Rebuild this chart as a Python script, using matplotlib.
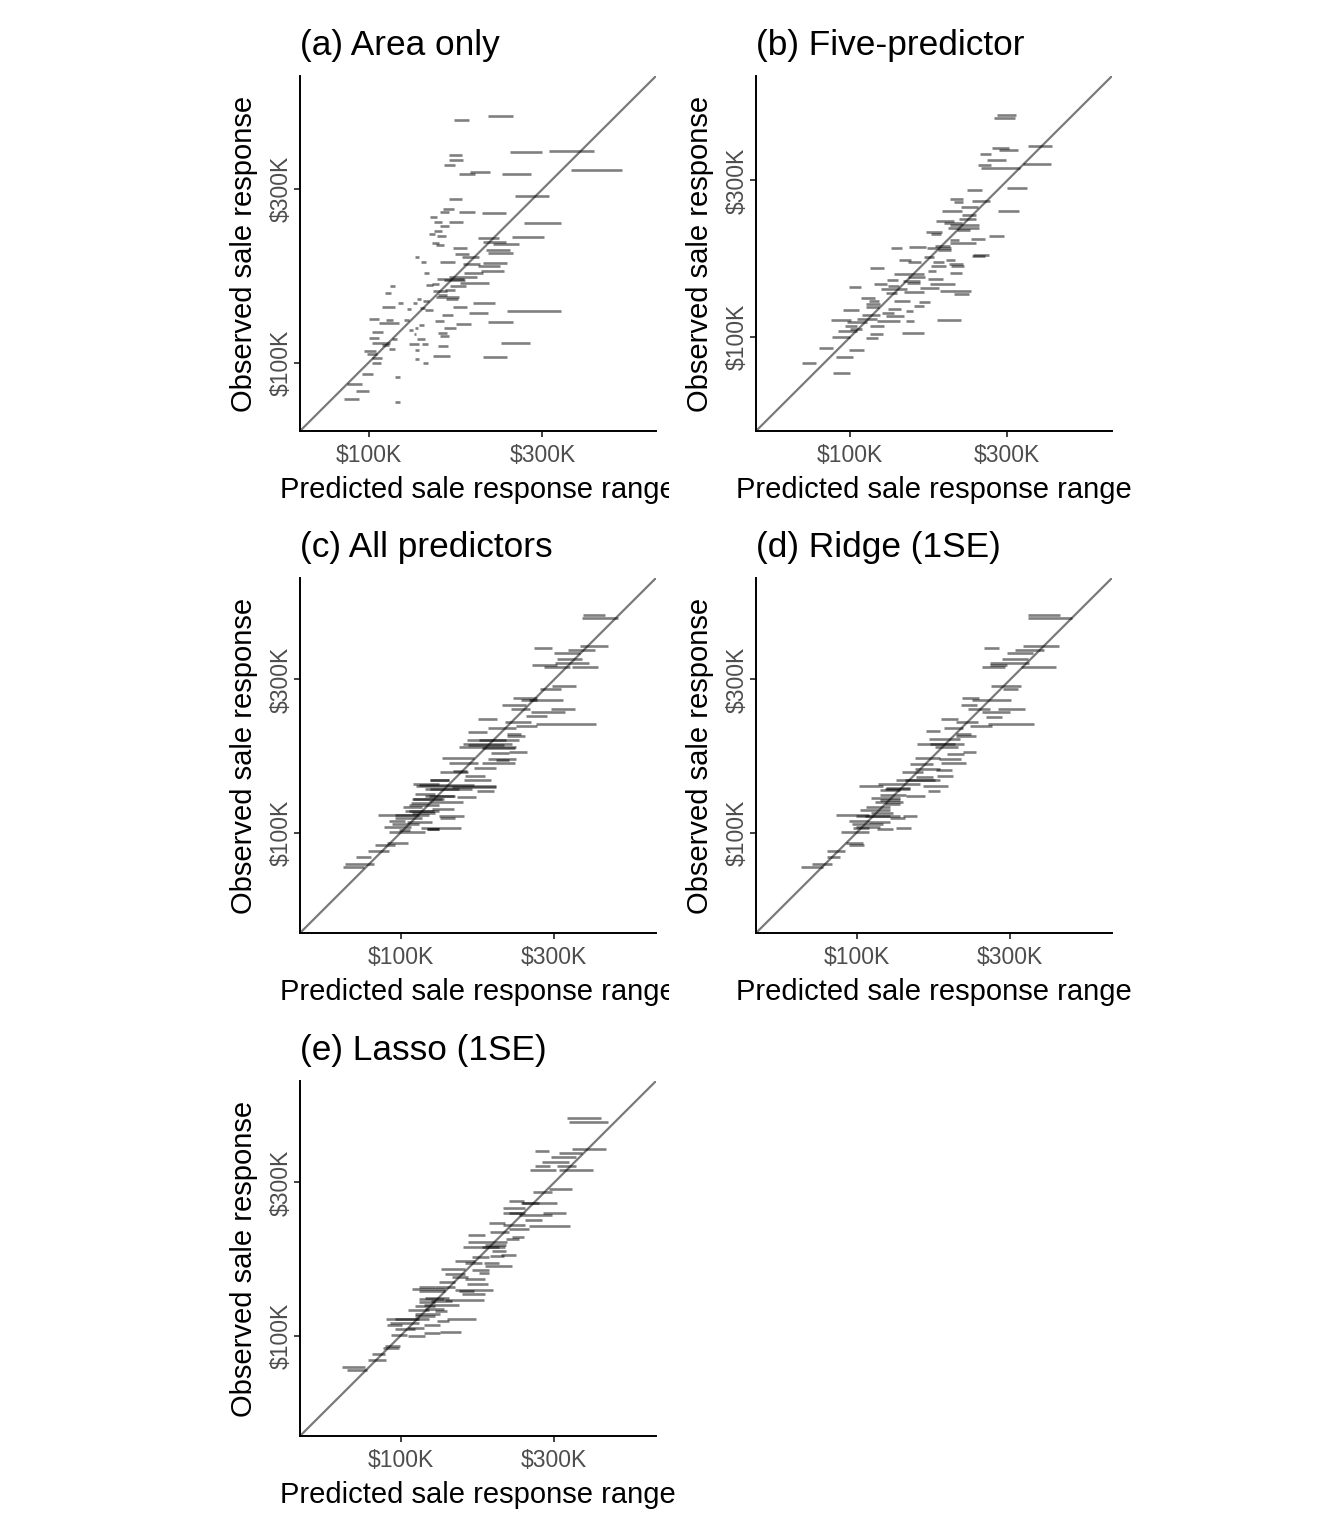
import matplotlib
matplotlib.use("Agg")
import matplotlib.pyplot as plt
from matplotlib.transforms import Bbox
import numpy as np

plt.rcParams['font.family'] = ['Liberation Sans', 'DejaVu Sans']

# Values are log10(sale price in dollars)
titles = ["(a) Area only", "(b) Five-predictor", "(c) All predictors", "(d) Ridge (1SE)", "(e) Lasso (1SE)"]
tick_vals = [1e5, 3e5]
tick_labels = ["\\$100K", "\\$300K"]

a_obs = [5.680,5.669,5.579,5.583,5.572,5.558,5.543,5.530,5.525,5.518,5.518,5.458,5.450,5.423,5.414,5.416,5.412,5.400,5.386,5.387,
         5.385,5.377,5.362,5.354,5.349,5.347,5.343,5.332,5.328,5.330,5.325,5.317,5.310,5.302,5.298,5.291,5.290,5.277,5.277,5.275,
         5.271,5.265,5.252,5.248,5.246,5.235,5.231,5.227,5.218,5.216,5.215,5.212,5.211,5.200,5.196,5.193,5.186,5.180,5.175,5.176,
         5.169,5.164,5.164,5.163,5.153,5.152,5.150,5.147,5.145,5.143,5.137,5.130,5.121,5.118,5.117,5.113,5.114,5.110,5.107,5.104,
         5.096,5.095,5.090,5.084,5.080,5.081,5.074,5.069,5.066,5.066,5.054,5.052,5.052,5.053,5.048,5.046,5.037,5.034,5.031,5.023,
         5.018,5.015,5.013,5.010,5.000,5.000,4.969,4.961,4.942,4.923,4.901,4.892]
a_lo = [5.328,5.235,5.388,5.496,5.221,5.222,5.207,5.556,5.279,5.248,5.365,5.402,5.220,5.205,5.195,5.248,5.312,5.170,5.180,5.222,
        5.427,5.195,5.181,5.165,5.188,5.393,5.300,5.314,5.342,5.173,5.185,5.232,5.322,5.328,5.237,5.257,5.128,5.144,5.197,5.314,
        5.260,5.300,5.309,5.263,5.151,5.222,5.188,5.206,5.251,5.174,5.159,5.058,5.223,5.209,5.177,5.044,5.190,5.185,5.132,5.213,
        5.149,5.080,5.288,5.122,5.037,5.232,5.142,5.107,5.155,5.381,5.276,5.202,5.000,5.047,5.097,5.328,5.183,5.030,5.240,5.139,
        5.128,5.208,5.112,5.009,5.125,5.191,5.196,5.000,5.132,5.064,5.009,5.112,5.148,5.363,5.037,5.192,5.055,5.128,4.989,4.995,
        5.176,5.314,5.009,5.128,5.009,5.149,4.982,5.073,4.940,4.966,4.933,5.073]
a_hi = [5.397,5.275,5.475,5.618,5.257,5.258,5.238,5.695,5.333,5.292,5.446,5.494,5.256,5.236,5.222,5.292,5.376,5.189,5.202,5.258,
        5.527,5.222,5.203,5.182,5.212,5.483,5.359,5.376,5.413,5.193,5.208,5.270,5.388,5.397,5.277,5.303,5.138,5.158,5.238,5.379,
        5.307,5.360,5.371,5.314,5.167,5.299,5.261,5.264,5.330,5.193,5.177,5.074,5.267,5.238,5.215,5.062,5.215,5.248,5.145,5.246,
        5.165,5.094,5.346,5.132,5.073,5.271,5.156,5.116,5.177,5.529,5.328,5.231,5.028,5.066,5.110,5.397,5.207,5.083,5.282,5.151,
        5.136,5.241,5.121,5.041,5.130,5.216,5.220,5.028,5.156,5.078,5.060,5.138,5.162,5.444,5.055,5.217,5.072,5.138,5.020,5.023,
        5.223,5.379,5.037,5.138,5.034,5.163,5.012,5.087,4.982,5.000,4.974,5.087]

b_obs = [5.677,5.667,5.581,5.575,5.569,5.556,5.539,5.528,5.523,5.515,5.455,5.447,5.420,5.411,5.413,5.396,5.384,5.383,5.373,5.360,
         5.353,5.347,5.341,5.331,5.325,5.321,5.314,5.308,5.299,5.295,5.287,5.278,5.275,5.271,5.271,5.264,5.250,5.246,5.244,5.234,
         5.236,5.228,5.228,5.224,5.216,5.217,5.210,5.201,5.194,5.191,5.183,5.178,5.173,5.172,5.166,5.162,5.161,5.155,5.151,5.148,
         5.145,5.141,5.138,5.133,5.130,5.118,5.110,5.109,5.107,5.100,5.095,5.092,5.087,5.081,5.079,5.074,5.068,5.064,5.055,5.052,
         5.052,5.050,5.050,5.046,5.034,5.033,5.025,5.018,5.013,5.009,4.999,4.998,4.967,4.960,4.939,4.922,4.891]
b_lo = [5.446,5.436,5.539,5.432,5.452,5.393,5.416,5.525,5.389,5.396,5.476,5.355,5.304,5.314,5.369,5.338,5.279,5.449,5.341,5.329,
        5.262,5.286,5.304,5.296,5.324,5.230,5.245,5.422,5.368,5.304,5.304,5.258,5.179,5.124,5.234,5.268,5.372,5.370,5.225,5.148,
        5.292,5.176,5.250,5.299,5.245,5.307,5.059,5.235,5.302,5.132,5.177,5.237,5.112,5.160,5.172,5.072,5.243,5.116,4.995,5.211,
        5.093,5.274,5.162,5.109,5.314,5.033,5.133,5.057,5.208,5.049,5.195,5.047,5.115,4.978,5.168,5.096,5.036,5.109,5.020,4.941,
        5.265,5.081,5.170,4.990,4.984,5.061,5.000,4.964,5.157,5.061,4.945,5.047,4.904,4.996,4.957,4.853,4.947]
b_hi = [5.503,5.499,5.613,5.482,5.511,5.429,5.474,5.609,5.428,5.517,5.536,5.400,5.344,5.343,5.426,5.388,5.341,5.513,5.383,5.382,
        5.315,5.340,5.391,5.391,5.365,5.278,5.276,5.468,5.409,5.331,5.382,5.302,5.231,5.158,5.306,5.306,5.422,5.410,5.255,5.185,
        5.317,5.216,5.284,5.343,5.291,5.346,5.103,5.261,5.340,5.225,5.228,5.283,5.146,5.211,5.211,5.112,5.317,5.148,5.033,5.271,
        5.172,5.368,5.223,5.142,5.361,5.076,5.182,5.086,5.243,5.091,5.223,5.089,5.154,5.026,5.192,5.132,5.091,5.164,5.081,5.002,
        5.338,5.152,5.195,5.051,5.022,5.103,5.036,5.022,5.225,5.099,5.000,5.085,4.947,5.043,5.010,4.895,4.998]

c_obs = [5.679,5.668,5.581,5.576,5.569,5.558,5.540,5.529,5.523,5.516,5.516,5.456,5.447,5.420,5.414,5.398,5.386,5.385,5.375,5.362,
         5.354,5.346,5.340,5.332,5.326,5.315,5.308,5.301,5.289,5.277,5.268,5.264,5.251,5.247,5.233,5.230,5.217,5.217,5.201,5.193,
         5.188,5.177,5.163,5.163,5.151,5.147,5.147,5.142,5.137,5.130,5.120,5.115,5.111,5.106,5.097,5.094,5.085,5.081,5.075,5.069,
         5.060,5.054,5.051,5.047,5.046,5.036,5.033,5.026,5.019,5.015,5.012,5.010,5.001,4.969,4.961,4.943,4.924,4.903,4.892,
         5.273,5.227,5.149,5.149,5.115,5.069,5.054,5.012,5.163,5.289,5.414,5.106,5.137]
c_lo = [5.566,5.564,5.556,5.414,5.520,5.477,5.487,5.478,5.408,5.446,5.533,5.469,5.433,5.349,5.373,5.314,5.344,5.467,5.405,5.389,
        5.239,5.323,5.420,5.357,5.271,5.208,5.330,5.331,5.206,5.194,5.180,5.253,5.336,5.282,5.128,5.272,5.152,5.253,5.229,5.162,
        5.123,5.201,5.196,5.092,5.038,5.049,5.180,5.160,5.077,5.237,5.044,5.077,5.175,5.035,5.087,5.033,5.025,5.007,5.097,5.015,
        5.035,4.929,5.118,4.984,5.123,4.963,5.020,4.973,4.950,5.064,5.082,4.994,4.963,4.957,4.921,4.898,4.862,4.828,4.820,
        5.211,5.295,5.056,5.134,5.087,5.025,4.984,5.082,5.093,5.243,5.398,5.040,5.090]
c_hi = [5.634,5.674,5.644,5.471,5.603,5.556,5.562,5.584,5.487,5.526,5.614,5.546,5.497,5.424,5.503,5.391,5.401,5.541,5.510,5.456,
        5.299,5.405,5.606,5.423,5.357,5.267,5.373,5.386,5.326,5.346,5.357,5.354,5.394,5.336,5.229,5.359,5.239,5.355,5.295,5.207,
        5.211,5.263,5.282,5.149,5.118,5.180,5.295,5.295,5.222,5.291,5.108,5.170,5.235,5.134,5.194,5.087,5.118,5.066,5.165,5.118,
        5.108,5.087,5.197,5.066,5.168,5.015,5.097,5.056,5.033,5.189,5.120,5.030,5.077,5.023,4.984,4.963,4.909,4.918,4.888,
        5.320,5.336,5.134,5.227,5.165,5.103,5.056,5.118,5.149,5.367,5.424,5.130,5.180]

d_obs = [5.679,5.668,5.581,5.576,5.569,5.558,5.541,5.529,5.523,5.516,5.516,5.456,5.448,5.420,5.414,5.398,5.386,5.385,5.375,5.361,
         5.354,5.346,5.340,5.332,5.326,5.316,5.308,5.301,5.291,5.277,5.268,5.251,5.246,5.234,5.230,5.218,5.214,5.196,5.188,5.178,
         5.173,5.163,5.152,5.145,5.145,5.140,5.132,5.130,5.118,5.113,5.109,5.096,5.089,5.081,5.072,5.063,5.055,5.052,5.051,5.046,
         5.038,5.035,5.026,5.015,5.012,5.015,5.001,4.968,4.961,4.942,4.925,4.903,4.893,
         5.163,5.052,5.276,5.103,5.137,5.199,5.019]
d_lo = [5.531,5.533,5.517,5.396,5.492,5.466,5.452,5.415,5.414,5.388,5.510,5.417,5.455,5.327,5.360,5.323,5.347,5.439,5.388,5.402,
        5.261,5.310,5.408,5.351,5.272,5.215,5.310,5.310,5.226,5.188,5.245,5.331,5.281,5.183,5.256,5.263,5.165,5.248,5.142,5.250,
        5.186,5.123,5.066,5.009,5.206,5.092,5.072,5.222,5.072,5.155,5.046,5.056,5.087,5.030,5.012,5.046,4.937,4.999,5.144,5.103,
        4.978,5.040,4.987,5.121,5.064,4.988,4.953,4.968,4.976,4.909,4.909,4.861,4.828,
        5.149,5.025,5.227,5.072,5.087,5.180,4.997]
d_hi = [5.631,5.670,5.629,5.442,5.583,5.548,5.531,5.534,5.466,5.461,5.618,5.511,5.502,5.380,5.479,5.375,5.414,5.522,5.476,5.453,
        5.314,5.378,5.550,5.419,5.331,5.258,5.354,5.370,5.320,5.333,5.315,5.372,5.333,5.258,5.323,5.339,5.237,5.295,5.206,5.298,
        5.237,5.258,5.196,5.082,5.284,5.165,5.134,5.258,5.155,5.212,5.134,5.144,5.134,5.103,5.103,5.113,5.040,5.134,5.188,5.149,
        5.040,5.103,5.082,5.170,5.113,5.040,5.040,5.020,5.022,4.963,4.949,4.923,4.895,
        5.243,5.103,5.305,5.134,5.165,5.258,5.072]

e_obs = [5.678,5.666,5.581,5.575,5.570,5.557,5.540,5.528,5.528,5.516,5.515,5.456,5.448,5.420,5.413,5.398,5.383,5.383,5.375,5.361,
         5.352,5.345,5.341,5.331,5.323,5.315,5.308,5.301,5.291,5.282,5.275,5.263,5.252,5.247,5.245,5.234,5.228,5.228,5.218,5.209,
         5.205,5.196,5.192,5.184,5.177,5.166,5.162,5.153,5.152,5.145,5.143,5.138,5.131,5.119,5.115,5.110,5.106,5.096,5.092,5.084,
         5.080,5.077,5.068,5.062,5.053,5.052,5.047,5.041,5.032,5.032,5.024,5.021,5.013,5.010,5.003,4.999,4.969,4.961,4.942,4.924,
         4.903,4.894,
         5.276,5.140,5.109,5.052,5.413,5.383]
e_lo = [5.518,5.522,5.531,5.417,5.491,5.467,5.438,5.417,5.487,5.401,5.491,5.460,5.411,5.337,5.373,5.317,5.317,5.442,5.367,5.386,
        5.275,5.318,5.398,5.336,5.279,5.211,5.346,5.326,5.211,5.263,5.194,5.284,5.312,5.279,5.222,5.170,5.258,5.199,5.263,5.127,
        5.222,5.243,5.139,5.160,5.201,5.118,5.206,5.056,5.108,5.037,5.170,5.056,5.191,5.077,5.056,5.139,5.056,5.072,5.046,5.077,
        5.022,5.108,5.044,5.046,4.956,5.144,5.113,4.968,4.957,5.072,5.023,4.984,5.123,5.072,4.971,5.022,4.952,4.947,4.911,4.898,
        4.817,4.833,
        5.252,5.180,5.096,4.984,5.376,5.336]
e_hi = [5.623,5.645,5.638,5.460,5.562,5.545,5.522,5.464,5.545,5.484,5.597,5.531,5.471,5.382,5.486,5.385,5.386,5.513,5.469,5.439,
        5.323,5.386,5.526,5.398,5.336,5.261,5.383,5.367,5.331,5.326,5.323,5.326,5.360,5.320,5.274,5.232,5.307,5.253,5.346,5.201,
        5.274,5.274,5.201,5.211,5.263,5.170,5.270,5.108,5.170,5.139,5.288,5.139,5.263,5.149,5.134,5.258,5.108,5.180,5.108,5.134,
        5.087,5.143,5.123,5.108,5.056,5.234,5.149,5.056,5.004,5.123,5.072,5.046,5.189,5.123,5.020,5.077,4.999,4.994,4.952,4.954,
        4.890,4.895,
        5.305,5.227,5.159,5.087,5.429,5.376]

panels = [(a_obs, a_lo, a_hi), (b_obs, b_lo, b_hi), (c_obs, c_lo, c_hi), (d_obs, d_lo, d_hi), (e_obs, e_lo, e_hi)]
# axis limits in log10 dollars (per panel)
limits = [(4.812, 5.789), (4.714, 5.795), (4.688, 5.793), (4.688, 5.793), (4.688, 5.793)]

W, H = 1344, 1536
fig = plt.figure(figsize=(W / 100, H / 100), dpi=100)
fig.patch.set_facecolor('white')

# pixel boxes: left, top, right, bottom
boxes = [(300, 76, 656, 431), (756, 76, 1112, 431),
         (300, 578, 656, 933), (756, 578, 1112, 933),
         (300, 1081, 656, 1436)]

for i, (title, (obs, lo, hi), lim, box) in enumerate(zip(titles, panels, limits, boxes)):
    l, t, r, b = box
    ax = fig.add_axes([l / W, 1 - b / H, (r - l) / W, (b - t) / H])
    ax.set_xscale('log')
    ax.set_yscale('log')
    lim_d = 10 ** np.array(lim)
    ax.set_xlim(lim_d)
    ax.set_ylim(lim_d)
    ax.plot(lim_d, lim_d, color='#7a7a7a', lw=1.6, zorder=1, solid_capstyle='butt')
    ax.hlines(10 ** np.array(obs), 10 ** np.array(lo), 10 ** np.array(hi),
              colors='black', alpha=0.5, linewidth=1.9, zorder=2, capstyle='butt')
    ax.set_xticks(tick_vals)
    ax.set_xticklabels(tick_labels)
    ax.set_yticks(tick_vals)
    ax.set_yticklabels(tick_labels, rotation=90, va='center')
    ax.minorticks_off()
    for s in ['top', 'right']:
        ax.spines[s].set_visible(False)
    for s in ['left', 'bottom']:
        ax.spines[s].set_linewidth(1.4)
        ax.spines[s].set_color('black')
    ax.tick_params(axis='both', which='major', length=4, width=1.3, color='#333333',
                   labelcolor='#4D4D4D', labelsize=16.5)
    ax.tick_params(axis='x', pad=5.5)
    ax.tick_params(axis='y', pad=1.5)
    ax.set_title(title, loc='left', fontsize=25.4, pad=15, color='black')
    ax.set_xlabel('Predicted sale response range', fontsize=21, color='black')
    ax.set_ylabel('Observed sale response', fontsize=21, color='black')
    ax.xaxis.set_label_coords(0.5, -0.127)
    ax.yaxis.set_label_coords(-0.118, 0.5)
    if i in (0, 2):
        lab = ax.xaxis.label
        lab.set_clip_on(True)
        lab.set_clip_box(Bbox.from_extents(0, 0, 669, H))

fig.savefig('out.png', dpi=100, facecolor='white')
